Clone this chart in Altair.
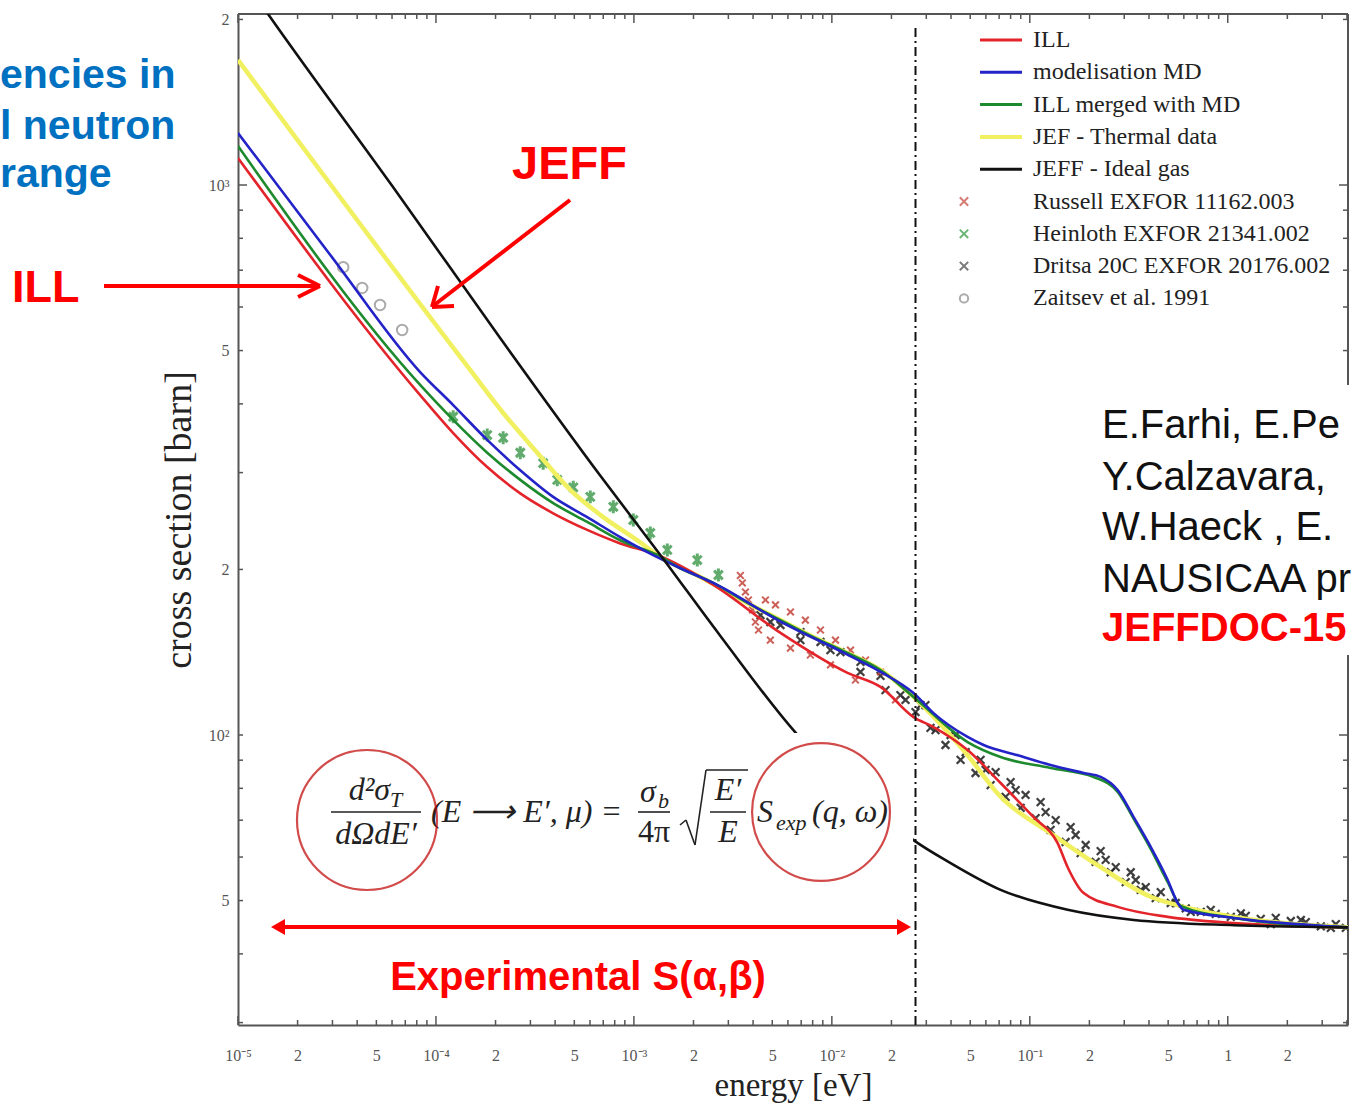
import altair as alt
import pandas as pd

W, H = 1110, 1011   # plot area (page x 238..1348, y 14..1025)

X_DOMAIN = [1e-5, 4.05]
Y_DOMAIN = [29.7, 2046]

X_TICK_VALUES = [1e-5, 2e-5, 5e-5, 1e-4, 2e-4, 5e-4, 1e-3, 2e-3, 5e-3,
                 1e-2, 2e-2, 5e-2, 0.1, 0.2, 0.5, 1, 2]
X_TICK_LABELS = ["10⁻⁵", "2", "5", "10⁻⁴", "2", "5", "10⁻³", "2", "5",
                 "10⁻²", "2", "5", "10⁻¹", "2", "5", "1", "2"]
Y_TICK_VALUES = [50, 100, 200, 500, 1000, 2000]
Y_TICK_LABELS = ["5", "10²", "2", "5", "10³", "2"]

X_MAJOR = [1e-5, 1e-4, 1e-3, 1e-2, 1e-1, 1]
X_MINOR = [k * 10.0 ** d for d in range(-5, 1) for k in range(2, 10) if k * 10.0 ** d < 4.05]
Y_MAJOR = [100, 1000]
Y_MINOR = [30, 40, 50, 60, 70, 80, 90, 200, 300, 400, 500, 600, 700, 800, 900, 2000]

# ---- curves ----
ILL_E = [1e-5, 8.32e-5, 1.222e-4, 1.815e-4, 2.666e-4, 3.91e-4, 5.81e-4, 8.53e-4, 1.313e-3,
         2.52e-3, 5.5e-3, 1.199e-2, 1.761e-2, 2.585e-2, 3.264e-2, 4.85e-2, 7.12e-2, 0.1045,
         0.1382, 0.1553, 0.1871, 0.2779, 0.4974, 1.072, 4.04]
ILL_S = [1120, 415, 354, 307, 275, 253, 236, 223, 212.5, 187.5, 153.3, 129.7, 122.3, 107.8,
         103.4, 93.9, 81.8, 70.9, 63.6, 57.5, 51.6, 48.7, 46.7, 45.5, 44.7]

MD_E = [1e-5, 2.919e-5, 8.32e-5, 1.222e-4, 1.815e-4, 2.666e-4, 3.91e-4, 5.81e-4, 8.53e-4,
        1.169e-3, 1.716e-3, 2.52e-3, 5.5e-3, 1.199e-2, 1.761e-2, 2.585e-2, 3.264e-2, 4.85e-2,
        5.84e-2, 8.68e-2, 0.1274, 0.1871, 0.228, 0.2779, 0.3348, 0.4081, 0.4974, 0.5587,
        0.5991, 1.072, 4.04]
MD_S = [1243, 747, 457, 398, 344, 303, 271, 249, 229, 215, 201, 189, 160.8, 140, 130.3, 119.2,
        109.6, 99.2, 95.9, 91.9, 88.2, 85.3, 83.9, 79.4, 70.9, 62.6, 54.5, 49.5, 48.1, 46.5, 44.7]

MERGED_E = [1e-5, 8.32e-5, 1.222e-4, 1.815e-4, 2.666e-4, 3.91e-4, 5.81e-4, 8.53e-4, 1.313e-3,
            1.716e-3, 2.52e-3, 3.745e-3, 5.5e-3, 8.07e-3, 1.199e-2, 1.761e-2, 2.585e-2, 4.85e-2,
            7.12e-2, 0.1274, 0.2102, 0.2779, 0.3348, 0.4081, 0.4974, 0.5788, 1.072, 4.04]
MERGED_S = [1177, 433, 374, 326, 291, 264, 244, 226, 212.5, 201, 189, 173.8, 161.8, 150.7, 141,
            131.3, 117.3, 97.1, 91.2, 87.1, 83.9, 78.8, 70.4, 62.1, 54.0, 48.9, 46.5, 44.7]

JEF_E = [1e-5, 1.489e-4, 2.186e-4, 3.25e-4, 4.77e-4, 7.0e-4, 1.04e-3, 1.36e-3, 2.166e-3,
         3.745e-3, 5.5e-3, 8.07e-3, 1.199e-2, 1.761e-2, 2.585e-2, 4.85e-2, 7.12e-2, 0.1274,
         0.228, 0.4081, 0.5991, 1.072, 4.04]
JEF_S = [1688, 461, 385, 326, 279, 249, 226, 210.7, 193.8, 173.8, 161.8, 150.7, 141, 131.3,
         117.3, 91.9, 77.2, 66.3, 57.5, 50.8, 48.7, 46.7, 44.7]

GAS_E = [1e-5, 1.418e-5, 6.59e-5, 2.11e-4, 6.77e-4, 1.36e-3, 2.734e-3, 6.94e-3, 1.395e-2,
         2.585e-2, 3.98e-2, 7.12e-2, 0.1553, 0.3348, 1.072, 4.04]
GAS_S = [2450, 2046, 951, 527, 296, 212.5, 151.4, 98.7, 77.8, 64.4, 58.5, 52.3, 48.1, 46.1,
         45.1, 44.7]

# ---- measurements ----
RUSSELL_E = [3.45e-3, 3.53e-3, 3.66e-3, 3.79e-3, 3.97e-3, 4.11e-3, 4.26e-3, 4.62e-3, 5.19e-3,
             6.18e-3, 7.35e-3, 8.76e-3, 1.043e-2, 1.242e-2, 1.479e-2, 1.761e-2, 4.89e-3,
             6.18e-3, 7.79e-3, 9.84e-3, 1.316e-2, 2.097e-2]
RUSSELL_S = [195, 189, 182, 176, 168.8, 160.5, 155.2, 176, 172.4, 167.4, 161.8, 155.2, 148.8,
             142.7, 136.9, 130.2, 148.8, 143.9, 139.8, 134.1, 125.9, 115.8]

HEINLOTH_E = [1.222e-4, 1.815e-4, 2.186e-4, 2.666e-4, 3.48e-4, 4.10e-4, 4.94e-4, 6.02e-4,
              7.87e-4, 9.93e-4, 1.21e-3, 1.475e-3, 2.09e-3, 2.672e-3]
HEINLOTH_S = [379, 351, 347, 326, 312, 291, 282, 271, 260, 246, 233, 217, 208, 195.4]

DRITSA_E = [4.36e-3, 5.5e-3, 6.94e-3, 8.76e-3, 1.105e-2, 1.395e-2, 1.761e-2, 2.22e-2, 2.646e-2,
            3.15e-2, 3.75e-2, 4.47e-2, 5.32e-2, 6.34e-2, 7.55e-2, 8.99e-2, 0.107, 0.1274,
            0.1517, 0.1806, 0.2151, 0.2562, 0.3051, 0.3633, 0.4325, 0.5151, 0.6134, 0.7302,
            0.8699, 1.0356, 1.233, 1.468, 1.748, 2.082, 2.479, 2.953, 3.516, 3.95, 2.97e-2,
            4.22e-2, 5.98e-2, 8.48e-2, 0.1202, 0.1704, 0.2417, 0.3427,
            2.356e-2, 2.805e-2, 3.34e-2, 3.98e-2, 4.74e-2, 5.64e-2, 6.72e-2, 8.0e-2, 9.52e-2,
            0.1134, 0.1351, 0.1608, 0.1915, 0.228, 0.2716, 0.3234, 0.3851, 0.4586, 0.5461,
            0.65, 0.8203, 1.164, 1.65, 2.34, 3.317, 4.89e-3, 6.94e-3, 9.84e-3, 1.395e-2,
            1.866e-2]
DRITSA_S = [165.2, 158.5, 153.9, 147.6, 141.5, 135.8, 128.1, 118.2, 110.1, 103, 95.9, 90.1,
            85.3, 81.1, 77.2, 73.7, 70.6, 67.2, 63.9, 61, 58.8, 56.3, 54, 52.3, 50.5, 49.5,
            48.4, 47.7, 47.3, 46.7, 46.9, 46.3, 46.5, 45.9, 45.7, 44.9, 45.3, 44.6, 113.3,
            100, 86.4, 79.4, 72.4, 65.8, 59.3, 54.5,
            115.8, 113.3, 102.1, 100, 93.1, 90.1, 85.6, 82.1, 77.8,
            75.5, 70, 68, 63.1, 61.5, 57.5, 56.3, 52.9, 51.8, 49.5,
            47.7, 48.1, 47.4, 45.3, 46.1, 44.6, 160.5, 148.8, 142.7, 130.2,
            120.7]

ZAITSEV_E = [3.40e-5, 4.24e-5, 5.22e-5, 6.75e-5]
ZAITSEV_S = [709, 650, 605, 545]

VLINE_E = [0.02646]

LINE_LABELS = ["ILL", "modelisation MD", "ILL merged with MD", "JEF - Thermal data", "JEFF - Ideal gas"]
LINE_COLORS = ["#e3242b", "#2323c8", "#1e8a2e", "#f0f060", "#111111"]
POINT_LABELS = ["Russell EXFOR 11162.003", "Heinloth EXFOR 21341.002",
                "Dritsa 20C EXFOR 20176.002", "Zaitsev et al. 1991"]
POINT_COLORS = ["#c4453c", "#2a9a3a", "#444444", "#888888"]

XSHAPE = "M-1,-1L1,1M-1,1L1,-1"
ISHAPE = "M-1,-1L1,1M-1,1L1,-1M0,-1.5L0,1.5"

# ---- helpers ----
def label_expr(values, labels):
    expr = "''"
    for v, l in zip(values, labels):
        expr = f"(datum.value > {v*0.97} && datum.value < {v*1.03}) ? '{l}' : " + expr
    return expr

xs = alt.Scale(type="log", domain=X_DOMAIN, nice=False)
ys = alt.Scale(type="log", domain=Y_DOMAIN, nice=False)
xaxis = alt.Axis(values=X_TICK_VALUES, labelExpr=label_expr(X_TICK_VALUES, X_TICK_LABELS),
                 title="energy [eV]", grid=False, ticks=False, tickSize=0, domainColor="#555",
                 domainWidth=2, labelFont="Liberation Serif", labelFontSize=16, labelColor="#555",
                 labelPadding=22, labelOverlap=False, labelFlush=False,
                 titleFont="Liberation Serif", titleFontSize=33, titleFontWeight="normal",
                 titleColor="#222", titlePadding=6)
yaxis = alt.Axis(values=Y_TICK_VALUES, labelExpr=label_expr(Y_TICK_VALUES, Y_TICK_LABELS),
                 title="cross section [barn]", grid=False, ticks=False, tickSize=0,
                 domainColor="#555", domainWidth=2, labelFont="Liberation Serif",
                 labelFontSize=16, labelColor="#555", labelPadding=9, labelOverlap=False,
                 labelFlush=False, titleFont="Liberation Serif", titleFontSize=38,
                 titleFontWeight="normal", titleColor="#222", titlePadding=10)

def X():
    return alt.X("E:Q", scale=xs, axis=xaxis)

def Y():
    return alt.Y("S:Q", scale=ys, axis=yaxis)

ONE = pd.DataFrame({"k": [0]})

def series(E, S):
    return pd.DataFrame({"E": E, "S": S})

layers = []

# inner ticks (matlab style) and frame
xt_major = pd.DataFrame({"E": X_MAJOR})
xt_minor = pd.DataFrame({"E": X_MINOR})
yt_major = pd.DataFrame({"S": Y_MAJOR})
yt_minor = pd.DataFrame({"S": Y_MINOR})
tick_style = dict(color="#555", strokeWidth=1.5)
for df, L in [(xt_major, 9), (xt_minor, 5)]:
    layers.append(alt.Chart(df).mark_rule(**tick_style).encode(x=X(), y=alt.value(H), y2=alt.value(H - L)))
    layers.append(alt.Chart(df).mark_rule(**tick_style).encode(x=X(), y=alt.value(0), y2=alt.value(L)))
for df, L in [(yt_major, 9), (yt_minor, 5)]:
    layers.append(alt.Chart(df).mark_rule(**tick_style).encode(y=Y(), x=alt.value(0), x2=alt.value(L)))
    layers.append(alt.Chart(df).mark_rule(**tick_style).encode(y=Y(), x=alt.value(W), x2=alt.value(W - L)))
layers.append(alt.Chart(ONE).mark_rule(color="#555", strokeWidth=2).encode(
    x=alt.value(0), x2=alt.value(W), y=alt.value(0)))
layers.append(alt.Chart(ONE).mark_rule(color="#555", strokeWidth=2).encode(
    x=alt.value(W), y=alt.value(0), y2=alt.value(H)))

# measurements
layers.append(alt.Chart(series(DRITSA_E, DRITSA_S)).mark_point(
    shape=XSHAPE, size=60, filled=False, strokeWidth=2.2, color="#2a2a2a", opacity=0.9,
    clip=True).encode(x=X(), y=Y()))
layers.append(alt.Chart(series(RUSSELL_E, RUSSELL_S)).mark_point(
    shape=XSHAPE, size=45, filled=False, strokeWidth=2, color=POINT_COLORS[0], opacity=0.85,
    clip=True).encode(x=X(), y=Y()))
layers.append(alt.Chart(series(HEINLOTH_E, HEINLOTH_S)).mark_point(
    shape=ISHAPE, size=75, filled=False, strokeWidth=3, color="#1f8a30",
    clip=True).encode(x=X(), y=Y()))
layers.append(alt.Chart(series(ZAITSEV_E, ZAITSEV_S)).mark_point(
    shape="circle", size=110, filled=False, strokeWidth=2, color=POINT_COLORS[3],
    clip=True).encode(x=X(), y=Y()))

# curves
for (E, S), col, sw in [((JEF_E, JEF_S), LINE_COLORS[3], 4.5),
                        ((ILL_E, ILL_S), LINE_COLORS[0], 2.6),
                        ((MERGED_E, MERGED_S), LINE_COLORS[2], 2.6),
                        ((MD_E, MD_S), LINE_COLORS[1], 2.6),
                        ((GAS_E, GAS_S), LINE_COLORS[4], 2.6)]:
    layers.append(alt.Chart(series(E, S)).mark_line(
        color=col, strokeWidth=sw, clip=True, interpolate="monotone").encode(x=X(), y=Y()))

# white boxes pasted over the figure
layers.append(alt.Chart(ONE).mark_rect(fill="white").encode(
    x=alt.value(5), x2=alt.value(675), y=alt.value(719), y2=alt.value(1001)))
layers.append(alt.Chart(ONE).mark_rect(fill="white").encode(
    x=alt.value(852), x2=alt.value(1120), y=alt.value(371), y2=alt.value(641)))

# dash-dot separation line
layers.append(alt.Chart(pd.DataFrame({"E": VLINE_E})).mark_rule(
    color="#111", strokeWidth=2, strokeDash=[9, 4, 2, 4]).encode(
    x=X(), y=alt.value(14), y2=alt.value(H)))

# legend (manual, matlab style)
for i, (lab, col) in enumerate(zip(LINE_LABELS, LINE_COLORS)):
    yy = 26 + 32.3 * i
    layers.append(alt.Chart(ONE).mark_rule(color=col, strokeWidth=3 if i != 3 else 4).encode(
        x=alt.value(742), x2=alt.value(784), y=alt.value(yy)))
    layers.append(alt.Chart(ONE).mark_text(align="left", baseline="middle", font="Liberation Serif",
                                           fontSize=24, color="#222").encode(
        x=alt.value(795), y=alt.value(yy), text=alt.value(lab)))
for j, (lab, col) in enumerate(zip(POINT_LABELS, POINT_COLORS)):
    yy = 26 + 32.3 * (j + 5)
    shp = "circle" if j == 3 else XSHAPE
    layers.append(alt.Chart(ONE).mark_point(shape=shp, size=70, filled=False, strokeWidth=2,
                                            color=col).encode(x=alt.value(726), y=alt.value(yy)))
    layers.append(alt.Chart(ONE).mark_text(align="left", baseline="middle", font="Liberation Serif",
                                           fontSize=24, color="#222").encode(
        x=alt.value(795), y=alt.value(yy), text=alt.value(lab)))

# formula
def txt(s, x, y, size=32, style="italic", align="left", font="Liberation Serif", color="#222",
        weight="normal"):
    return alt.Chart(ONE).mark_text(align=align, baseline="alphabetic", font=font, fontSize=size,
                                    fontStyle=style, fontWeight=weight, color=color).encode(
        x=alt.value(x), y=alt.value(y), text=alt.value(s))

def seg(x1, y1, x2, y2, color="#222", w=1.6):
    return alt.Chart(ONE).mark_rule(color=color, strokeWidth=w).encode(
        x=alt.value(x1), y=alt.value(y1), x2=alt.value(x2), y2=alt.value(y2))

layers += [
    txt("d²σ", 152, 786, align="right"), txt("T", 152, 793, size=22),
    seg(93, 798, 183, 798),
    txt("dΩdE′", 138, 830, align="center"),
    txt("(E ⟶ E′, μ) =", 193, 808),
    txt("σ", 402, 788), txt("b", 420, 794, size=22),
    seg(400, 798, 432, 798),
    txt("4π", 416, 828, align="center", style="normal"),
    seg(442, 811, 448, 806), seg(448, 806, 457, 831), seg(457, 831, 468, 756), seg(468, 756, 510, 756),
    txt("E′", 490, 786, align="center"),
    seg(472, 798, 508, 798),
    txt("E", 490, 828, align="center"),
    txt("S", 519, 808), txt("exp", 538, 816, size=22), txt("(q, ω)", 574, 808),
]
layers.append(alt.Chart(ONE).mark_point(shape="circle", size=19600, filled=False, strokeWidth=2.2,
                                        color="#c00000").encode(x=alt.value(129), y=alt.value(806)))
layers.append(alt.Chart(ONE).mark_point(shape="circle", size=19000, filled=False, strokeWidth=2.2,
                                        color="#c00000").encode(x=alt.value(583), y=alt.value(798)))

RED = "#ff0000"
# double arrow + experimental label
layers.append(seg(42, 913, 664, 913, color=RED, w=4))
layers.append(alt.Chart(ONE).mark_point(shape="triangle-left", size=260, filled=True, color=RED,
                                        opacity=1).encode(x=alt.value(40), y=alt.value(913)))
layers.append(alt.Chart(ONE).mark_point(shape="triangle-right", size=260, filled=True, color=RED,
                                        opacity=1).encode(x=alt.value(666), y=alt.value(913)))
layers.append(txt("Experimental S(α,β)", 340, 976, size=40, style="normal", align="center",
                  font="Liberation Sans", color=RED, weight="bold"))

# ILL and JEFF pointers
layers.append(txt("ILL", -226, 288, size=45, style="normal", font="Liberation Sans", color=RED,
                  weight="bold"))
layers += [seg(-134, 272, 81, 272, color=RED, w=4), seg(82, 272, 60, 261, color=RED, w=4),
           seg(82, 272, 60, 283, color=RED, w=4)]
layers.append(txt("JEFF", 274, 165, size=47, style="normal", font="Liberation Sans", color=RED,
                  weight="bold"))
layers += [seg(332, 186, 195, 292, color=RED, w=4), seg(194, 293, 216, 292, color=RED, w=4),
           seg(194, 293, 200, 272, color=RED, w=4)]

# slide text around the figure
BLUE_TEXT = ["encies in", "l neutron", "range"]
for s, yy in zip(BLUE_TEXT, [74, 125, 173]):
    layers.append(txt(s, -238, yy, size=41, style="normal", font="Liberation Sans",
                      color="#0070c0", weight="bold"))
REF_TEXT = ["E.Farhi, E.Pe", "Y.Calzavara,", "W.Haeck , E.", "NAUSICAA pr"]
for s, yy in zip(REF_TEXT, [424, 476, 526, 578]):
    layers.append(txt(s, 864, yy, size=40, style="normal", font="Liberation Sans", color="#111"))
layers.append(txt("JEFFDOC-15", 864, 627, size=40, style="normal", font="Liberation Sans",
                  color=RED, weight="bold"))

chart = alt.layer(*layers).properties(
    width=W, height=H,
    padding={"left": 238, "top": 14, "right": 7, "bottom": 84},
    autosize=alt.AutoSizeParams(type="none"),
    background="white",
).configure_view(strokeWidth=0)

chart.save("out.html", embed_options={"renderer": "svg", "actions": False})
